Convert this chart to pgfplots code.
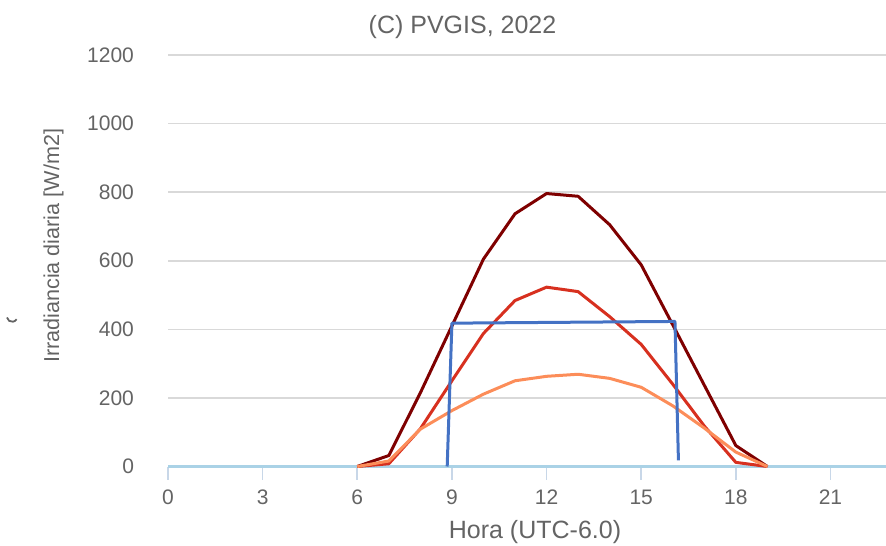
\documentclass[border=0pt]{standalone}
\usepackage{fontspec}
\setmainfont{Liberation Sans}
\usepackage{pgfplots}
\pgfplotsset{compat=1.18}

\definecolor{txtgray}{RGB}{100,100,100}
\definecolor{gridgray}{RGB}{217,217,217}
\definecolor{zeroblue}{RGB}{170,210,230}
\definecolor{tickblue}{RGB}{200,215,232}
\definecolor{maxred}{RGB}{127,0,0}
\definecolor{midred}{RGB}{215,48,31}
\definecolor{lowor}{RGB}{252,141,89}
\definecolor{rectblue}{RGB}{68,114,196}

\begin{document}
\begin{tikzpicture}
\useasboundingbox (-84pt,-39.25pt) rectangle (359pt,233.25pt);
\begin{axis}[
    at={(0pt,0pt)}, anchor=south west,
    scale only axis, width=359pt, height=205.75pt,
    xmin=0, xmax=22.76, ymin=0, ymax=1200,
    xtick={0,3,...,21}, ytick={0,200,...,1200},
    axis line style={draw=none},
    ymajorgrids, grid style={gridgray, line width=0.8pt},
    xtick pos=bottom, ytick pos=left,
    ytick style={draw=none},
    xtick style={tickblue, line width=0.8pt},
    tick align=outside, major tick length=6.5pt,
    tick label style={font=\fontsize{10.5}{12}\selectfont, text=txtgray},
    xticklabel shift=1.5pt, yticklabel shift=7pt,
    /pgf/number format/assume math mode=true,
    /pgf/number format/1000 sep={},
    clip=false,
    every axis plot/.append style={line width=1.5pt, line join=round},
]
\addplot[zeroblue] coordinates {(0,0) (22.76,0)};
% max
\addplot[maxred] coordinates {
    (6,0) (7,32) (8,215) (9,410) (10,605) (11,737) (12,796)
    (13,788) (14,705) (15,588) (16,413) (17,237) (18,61) (19,0)};
% media
\addplot[midred] coordinates {
    (6,0) (7,8) (8,110) (9,250) (10,388) (11,484) (12,523)
    (13,510) (14,437) (15,356) (16,240) (17,118) (18,12) (19,0)};
% min
\addplot[lowor] coordinates {
    (6,0) (7,16) (8,109) (9,163) (10,211) (11,250) (12,263)
    (13,269) (14,257) (15,231) (16,177) (17,112) (18,42) (19,0)};
% horas sol pico
\addplot[rectblue] coordinates {(8.85,0) (9.0,418) (16.07,423) (16.18,18)};
\end{axis}
\node[anchor=base, text=txtgray, font=\fontsize{12.5}{14}\selectfont]
    at (147.25pt,216.6pt) {(C) PVGIS, 2022};
\node[anchor=base, text=txtgray, font=\fontsize{12.5}{14}\selectfont]
    at (183.5pt,-35.9pt) {Hora (UTC-6.0)};
\node[anchor=base, rotate=90, text=txtgray, font=\fontsize{10.8}{13}\selectfont]
    at (-54.5pt,110.3pt) {Irradiancia diaria [W/m2]};
% trozo de texto cortado a la izquierda
\draw[txtgray, line width=0.9pt] (-80.5pt,74.5pt) arc[start angle=190, end angle=330, radius=2.6pt];
\end{tikzpicture}
\end{document}
